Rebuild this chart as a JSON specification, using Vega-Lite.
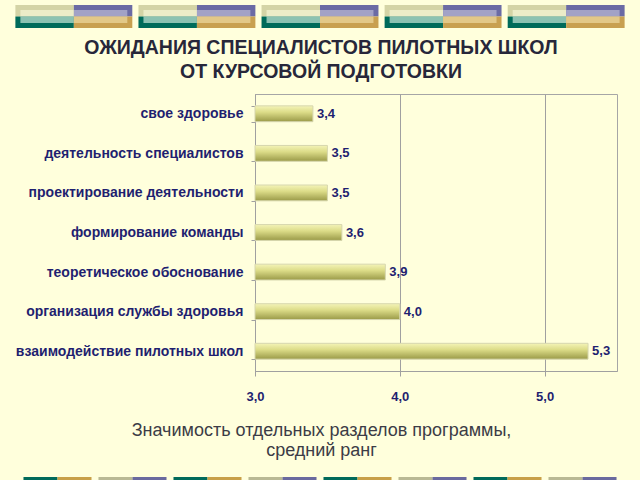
{
  "$schema": "https://vega.github.io/schema/vega-lite/v6.json",
  "background": "#ffffdc",
  "padding": {"left": 0, "top": 5, "right": 0, "bottom": 0},
  "config": {
    "font": "Liberation Sans",
    "locale": {"number": {"decimal": ",", "thousands": " ", "grouping": [3], "currency": ["", ""]}}
  },
  "vconcat": [
    {
      "width": 640,
      "height": 23,
      "view": {"stroke": null},
      "data": {"values": [
        {"block": 1, "half": "left", "row": "top", "part": "top-left"},
        {"block": 1, "half": "right", "row": "top", "part": "top-right"},
        {"block": 1, "half": "left", "row": "bottom", "part": "bottom-left"},
        {"block": 1, "half": "right", "row": "bottom", "part": "bottom-right"},
        {"block": 2, "half": "left", "row": "top", "part": "top-left"},
        {"block": 2, "half": "right", "row": "top", "part": "top-right"},
        {"block": 2, "half": "left", "row": "bottom", "part": "bottom-left"},
        {"block": 2, "half": "right", "row": "bottom", "part": "bottom-right"},
        {"block": 3, "half": "left", "row": "top", "part": "top-left"},
        {"block": 3, "half": "right", "row": "top", "part": "top-right"},
        {"block": 3, "half": "left", "row": "bottom", "part": "bottom-left"},
        {"block": 3, "half": "right", "row": "bottom", "part": "bottom-right"},
        {"block": 4, "half": "left", "row": "top", "part": "top-left"},
        {"block": 4, "half": "right", "row": "top", "part": "top-right"},
        {"block": 4, "half": "left", "row": "bottom", "part": "bottom-left"},
        {"block": 4, "half": "right", "row": "bottom", "part": "bottom-right"},
        {"block": 5, "half": "left", "row": "top", "part": "top-left"},
        {"block": 5, "half": "right", "row": "top", "part": "top-right"},
        {"block": 5, "half": "left", "row": "bottom", "part": "bottom-left"},
        {"block": 5, "half": "right", "row": "bottom", "part": "bottom-right"}
      ]},
      "layer": [
        {
          "mark": {"type": "rect"},
          "encoding": {
            "x": {"field": "block", "type": "ordinal", "axis": null, "scale": {"paddingInner": 0.05, "paddingOuter": 0.125}},
            "xOffset": {"field": "half", "type": "nominal", "sort": ["left", "right"], "scale": {"paddingInner": 0, "paddingOuter": 0}},
            "y": {"field": "row", "type": "nominal", "sort": ["top", "bottom"], "axis": null, "scale": {"paddingInner": 0, "paddingOuter": 0}},
            "color": {"field": "part", "type": "nominal", "legend": null,
              "scale": {"domain": ["top-left", "top-right", "bottom-left", "bottom-right"], "range": ["#d4d4a6", "#6b6ba4", "#006b5a", "#c8a050"]}}
          }
        },
        {
          "mark": {"type": "rect"},
          "encoding": {
            "x": {"field": "block", "type": "ordinal", "axis": null, "scale": {"paddingInner": 0.05, "paddingOuter": 0.125}},
            "xOffset": {"field": "half", "type": "nominal", "sort": ["left", "right"], "scale": {"paddingInner": 0, "paddingOuter": 0.0935}},
            "y": {"field": "row", "type": "nominal", "sort": ["top", "bottom"], "axis": null, "scale": {"paddingInner": 0, "paddingOuter": 0.77}},
            "color": {"field": "part", "type": "nominal", "legend": null,
              "scale": {"domain": ["top-left", "top-right", "bottom-left", "bottom-right"], "range": ["#ececc8", "#a2a2c6", "#8cc2b2", "#e2c888"]}}
          }
        }
      ],
      "resolve": {"scale": {"y": "independent", "xOffset": "independent", "color": "independent"}}
    },
    {
      "spacing": 0,
      "hconcat": [
        {
          "width": 1,
          "height": 1,
          "view": {"stroke": null},
          "data": {"values": []},
          "mark": {"type": "point", "opacity": 0},
          "encoding": {}
        },
        {
          "width": 362,
          "height": 277,
          "view": {"stroke": "#a6a6a6", "strokeWidth": 1},
          "title": {
            "text": ["ОЖИДАНИЯ СПЕЦИАЛИСТОВ ПИЛОТНЫХ ШКОЛ", "ОТ КУРСОВОЙ ПОДГОТОВКИ"],
            "anchor": "middle",
            "frame": "group",
            "dx": -115,
            "offset": 5,
            "font": "Liberation Sans",
            "fontSize": 19.5,
            "fontWeight": "bold",
            "lineHeight": 24,
            "color": "#27273a"
          },
          "data": {"values": [
            {"section": "свое здоровье", "rank": 3.4},
            {"section": "деятельность специалистов", "rank": 3.5},
            {"section": "проектирование деятельности", "rank": 3.5},
            {"section": "формирование команды", "rank": 3.6},
            {"section": "теоретическое обоснование", "rank": 3.9},
            {"section": "организация службы здоровья", "rank": 4.0},
            {"section": "взаимодействие пилотных школ", "rank": 5.3}
          ]},
          "encoding": {
            "y": {
              "field": "section", "type": "nominal",
              "sort": ["свое здоровье", "деятельность специалистов", "проектирование деятельности", "формирование команды", "теоретическое обоснование", "организация службы здоровья", "взаимодействие пилотных школ"],
              "scale": {"paddingInner": 0.6, "paddingOuter": 0.3},
              "axis": {
                "title": null,
                "labelFont": "Liberation Sans",
                "labelFontSize": 14,
                "labelFontWeight": "bold",
                "labelColor": "#1f1f70",
                "labelPadding": 8,
                "tickBand": "extent",
                "tickSize": 4,
                "tickColor": "#a0a0a0",
                "domainColor": "#a0a0a0",
                "labelLimit": 300,
                "minExtent": 253,
                "maxExtent": 253
              }
            },
            "x": {
              "field": "rank", "type": "quantitative",
              "scale": {"domain": [3, 5.5], "zero": false, "nice": false},
              "axis": {
                "values": [3, 4, 5],
                "format": ".1f",
                "grid": true,
                "gridColor": "#a0a0a0",
                "domainColor": "#a0a0a0",
                "tickColor": "#a0a0a0",
                "tickSize": 5,
                "labelFlush": false,
                "labelPadding": 14,
                "labelFont": "Liberation Sans",
                "labelFontSize": 13,
                "labelFontWeight": "bold",
                "labelColor": "#1f1f70",
                "title": ["Значимость отдельных разделов программы,", "средний ранг"],
                "titleX": 66,
                "titleAlign": "center",
                "titleFont": "Liberation Sans",
                "titleFontSize": 18,
                "titleFontWeight": "normal",
                "titleColor": "#3c3c46",
                "titlePadding": 18,
                "titleLineHeight": 20
              }
            }
          },
          "layer": [
            {
              "mark": {
                "type": "bar",
                "color": {"gradient": "linear", "x1": 0, "y1": 0, "x2": 0, "y2": 1,
                  "stops": [{"offset": 0, "color": "#f4f4b8"}, {"offset": 0.4, "color": "#dcdc88"}, {"offset": 1, "color": "#9a9a48"}]},
                "stroke": "#d6d6ae",
                "strokeWidth": 1
              },
              "encoding": {"x2": {"datum": 3}}
            },
            {
              "mark": {"type": "text", "align": "left", "baseline": "middle", "dx": 4, "font": "Liberation Sans", "fontSize": 13, "fontWeight": "bold", "color": "#1f1f70"},
              "encoding": {"text": {"field": "rank", "type": "quantitative", "format": ".1f"}}
            }
          ]
        }
      ]
    },
    {
      "width": 640,
      "height": 32,
      "view": {"stroke": null},
      "data": {"values": [
        {"block": 1, "half": "left", "part": "A-left"}, {"block": 1, "half": "right", "part": "A-right"},
        {"block": 2, "half": "left", "part": "B-left"}, {"block": 2, "half": "right", "part": "B-right"},
        {"block": 3, "half": "left", "part": "A-left"}, {"block": 3, "half": "right", "part": "A-right"},
        {"block": 4, "half": "left", "part": "B-left"}, {"block": 4, "half": "right", "part": "B-right"},
        {"block": 5, "half": "left", "part": "A-left"}, {"block": 5, "half": "right", "part": "A-right"},
        {"block": 6, "half": "left", "part": "B-left"}, {"block": 6, "half": "right", "part": "B-right"},
        {"block": 7, "half": "left", "part": "A-left"}, {"block": 7, "half": "right", "part": "A-right"},
        {"block": 8, "half": "left", "part": "B-left"}, {"block": 8, "half": "right", "part": "B-right"}
      ]},
      "mark": {"type": "rect"},
      "encoding": {
        "x": {"field": "block", "type": "ordinal", "axis": null, "scale": {"paddingInner": 0.093, "paddingOuter": 0.313}},
        "xOffset": {"field": "half", "type": "nominal", "sort": ["left", "right"], "scale": {"paddingInner": 0, "paddingOuter": 0}},
        "y": {"datum": "strip", "type": "nominal", "axis": null, "scale": {"paddingInner": 0, "paddingOuter": 0.5}},
        "color": {"field": "part", "type": "nominal", "legend": null,
          "scale": {"domain": ["A-left", "A-right", "B-left", "B-right"], "range": ["#006a5a", "#c8a048", "#b9b994", "#6a6a9e"]}}
      }
    }
  ],
  "spacing": 9
}
